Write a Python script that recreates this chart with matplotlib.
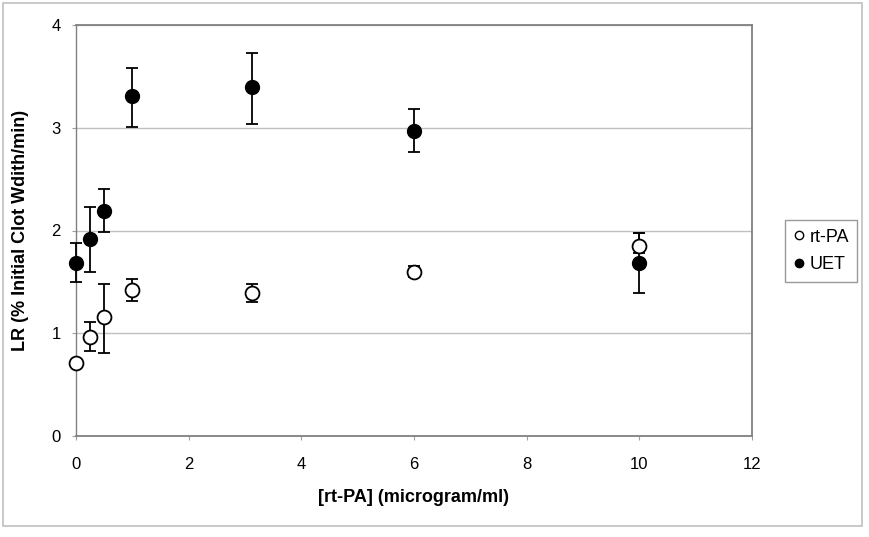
import matplotlib.pyplot as plt
from matplotlib.patches import Rectangle
from matplotlib.lines import Line2D

plt.rcParams['font.family'] = ['Liberation Sans', 'DejaVu Sans']

# datos
dosis = [0, 0.25, 0.5, 1, 3.125, 6, 10]

rtpa = [0.71, 0.96, 1.16, 1.42, 1.39, 1.60, 1.85]
rtpa_err_inf = [0.03, 0.13, 0.35, 0.11, 0.09, 0.05, 0.07]
rtpa_err_sup = [0.03, 0.15, 0.32, 0.11, 0.09, 0.05, 0.13]

uet = [1.68, 1.92, 2.19, 3.31, 3.40, 2.97, 1.68]
uet_err_inf = [0.18, 0.32, 0.20, 0.30, 0.36, 0.21, 0.29]
uet_err_sup = [0.20, 0.31, 0.21, 0.27, 0.33, 0.21, 0.30]

x_ticks = [0, 2, 4, 6, 8, 10, 12]
y_ticks = [0, 1, 2, 3, 4]

fig = plt.figure(figsize=(8.7, 5.37), dpi=100)
# borde exterior
fig.patches.append(Rectangle((3 / 870, 11 / 537), 859 / 870, 523 / 537, transform=fig.transFigure,
                             fill=False, edgecolor='#c0c0c0', linewidth=1.2))
ax = fig.add_axes([76 / 870, 101 / 537, 676 / 870, 411 / 537])

estilo = dict(fmt='o', color='black', markeredgecolor='black', markersize=10,
              ecolor='black', elinewidth=1.3, capsize=4, capthick=1.3)
cont_uet = ax.errorbar(dosis, uet, yerr=[uet_err_inf, uet_err_sup],
                       markerfacecolor='black', zorder=3, **estilo)
cont_rtpa = ax.errorbar(dosis, rtpa, yerr=[rtpa_err_inf, rtpa_err_sup],
                        markerfacecolor='white', markeredgewidth=1.3, zorder=4, **estilo)
# que no se corten los puntos en x=0
for cont in (cont_uet, cont_rtpa):
    for art in cont.get_children():
        art.set_clip_on(False)

ax.set_xlim(0, 12)
ax.set_ylim(0, 4)
ax.set_xticks(x_ticks)
ax.set_yticks(y_ticks)
ax.tick_params(axis='both', labelsize=12, length=3, color='#a0a0a0')
ax.tick_params(axis='x', pad=12)
ax.tick_params(axis='y', pad=8)
ax.yaxis.grid(True, color='#c0c0c0', linewidth=1)
ax.set_axisbelow(True)
for s in ax.spines.values():
    s.set_color('#808080')
    s.set_linewidth(1.3)
ax.spines['left'].set_linewidth(1.0)

ax.set_xlabel('[rt-PA] (microgram/ml)', fontsize=13, fontweight='bold', labelpad=12)
ax.set_ylabel('LR (% Initial Clot Wdith/min)', fontsize=13, fontweight='bold', labelpad=16)

h_rtpa = Line2D([], [], marker='o', linestyle='none', markerfacecolor='white',
                markeredgecolor='black', markersize=6)
h_uet = Line2D([], [], marker='o', linestyle='none', markerfacecolor='black',
               markeredgecolor='black', markersize=6)
leg = fig.legend([h_rtpa, h_uet], ['rt-PA', 'UET'], loc='center left',
                 bbox_to_anchor=(785 / 870, 1 - 251 / 537), fontsize=13,
                 frameon=True, fancybox=False, edgecolor='#808080', handlelength=0.6,
                 handletextpad=0.3, borderpad=0.45, labelspacing=0.6, borderaxespad=0)
leg.get_frame().set_linewidth(1.0)

fig.savefig('out.png', dpi=100)
